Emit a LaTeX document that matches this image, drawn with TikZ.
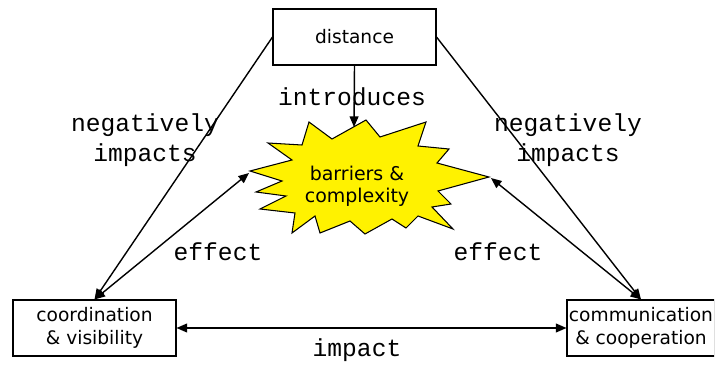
\documentclass[tikz,border=0pt]{standalone}
\usepackage{fontspec}
\setmainfont{DejaVu Sans}
\newfontfamily\courierfont{Liberation Mono}
\usetikzlibrary{arrows.meta}

\tikzset{
  box/.style={draw, line width=0.6pt, minimum width=3.26cm, minimum height=1.12cm,
              inner sep=0pt, align=center, font=\fontsize{10.6}{13}\selectfont},
  verb/.style={font=\courierfont\fontsize{14}{17}\selectfont, align=center},
  link/.style={line width=0.8pt, -{Triangle[length=6pt,width=5pt]}},
  twoway/.style={line width=0.8pt, {Triangle[length=6pt,width=5pt]}-{Triangle[length=6pt,width=5pt]}},
}

\begin{document}
\begin{tikzpicture}[x=0.02cm, y=-0.02cm]
    \useasboundingbox (0,0) rectangle (718,365);
    \clip (0,0) rectangle (714,365);

    % the three boxes
    \node[box] (dist) at (354.5,37) {distance};
    \node[box] (coord) at (94.5,328) {coordination\\ \& visibility};
    \node[box, minimum width=2.96cm] (comm) at (641,328) {communication\\ \& cooperation};

    % burst in the middle
    \draw[fill=yellow, line width=0.6pt]
        (250,171) -- (292,160) -- (268,143) -- (302,145) -- (309,122) -- (332,139)
        -- (366,120) -- (380,137) -- (426,122) -- (418,146) -- (449,149) -- (437,163)
        -- (489,177) -- (438,191) -- (451,204) -- (432,207) -- (453,229) -- (418,216)
        -- (406,228) -- (392,219) -- (365,234) -- (350,221) -- (320,233) -- (315,216)
        -- (292,233) -- (295,213) -- (260,209) -- (286,196) -- (256,192) -- (282,181)
        -- cycle;
    \coordinate (burstT) at (354,127);
    \coordinate (burstL) at (249,173);
    \coordinate (burstR) at (491,178);
    \node[font=\fontsize{10.8}{12.5}\selectfont, align=center] (burst) at (357,186) {barriers \&\\ complexity};

    % connectors
    \draw[link] (dist.south) -- (burstT);
    \draw[link] (dist.west) -- (coord.north);
    \draw[link] (dist.east) -- (comm.north);
    \draw[twoway] (coord.north) -- (burstL);
    \draw[twoway] (comm.north) -- (burstR);
    \draw[twoway] (coord.east) -- (comm.west);

    % labels
    \node[verb] (intro) at (352,97) {introduces};
    \node[verb] (negL) at (145,140) {negatively\\impacts};
    \node[verb] (negR) at (568,140) {negatively\\impacts};
    \node[verb] (effL) at (218,252) {effect};
    \node[verb] (effR) at (498,252) {effect};
    \node[verb] (imp) at (357,350) {impact};
\end{tikzpicture}
\end{document}
